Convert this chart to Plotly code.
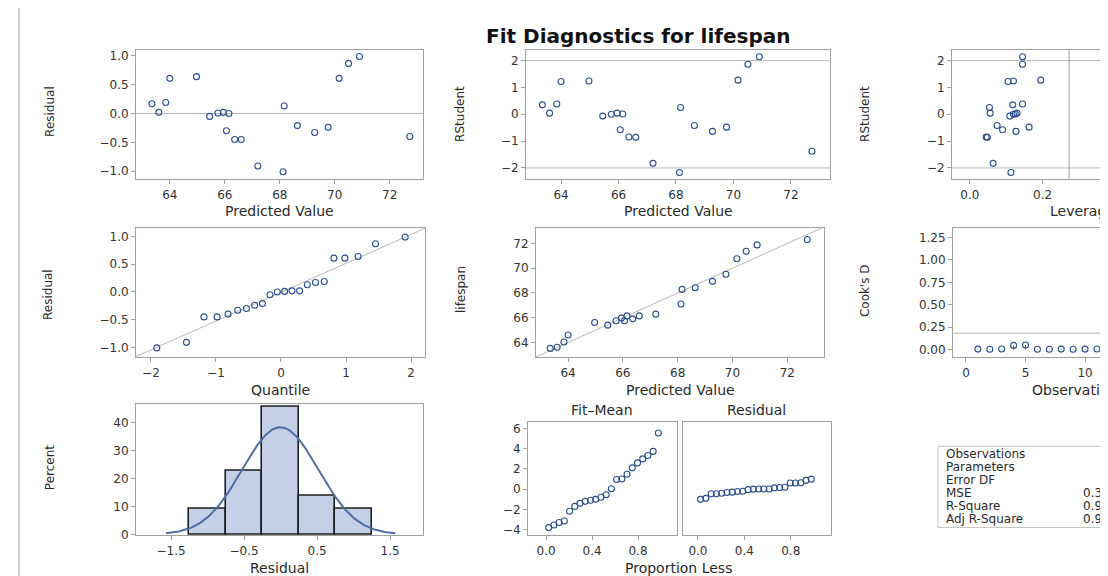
import numpy as np
import plotly.graph_objects as go
from statistics import NormalDist

W, H = 1108, 576

# ---------------- data ----------------
predicted = [63.35, 63.60, 63.85, 64.00, 64.97, 65.45, 65.75, 65.95, 66.15, 66.06, 66.36,
             66.60, 67.20, 68.12, 68.16, 68.64, 69.27, 69.76, 70.16, 70.50, 70.90, 72.73]
residual = [0.17, 0.02, 0.19, 0.61, 0.64, -0.05, 0.01, 0.02, 0.00, -0.30, -0.45,
            -0.45, -0.91, -1.01, 0.13, -0.21, -0.33, -0.24, 0.61, 0.87, 0.99, -0.40]
lifespan = [63.52, 63.62, 64.04, 64.61, 65.61, 65.40, 65.76, 65.97, 66.15, 65.76, 65.91,
            66.15, 66.29, 67.11, 68.29, 68.43, 68.94, 69.52, 70.77, 71.37, 71.89, 72.33]
rstudent = [0.35, 0.04, 0.38, 1.22, 1.24, -0.07, 0.00, 0.04, 0.01, -0.58, -0.85,
            -0.86, -1.83, -2.17, 0.25, -0.42, -0.64, -0.48, 1.27, 1.86, 2.14, -1.38]
leverage = [0.118, 0.056, 0.145, 0.105, 0.120, 0.110, 0.120, 0.130, 0.125, 0.090, 0.045,
            0.048, 0.064, 0.113, 0.054, 0.075, 0.127, 0.163, 0.195, 0.145, 0.145, 0.450]
observation = list(range(1, 23))
cooks_d = [0.004, 0.003, 0.005, 0.045, 0.050, 0.003, 0.002, 0.004, 0.003, 0.004, 0.005,
           0.048, 0.020, 0.110, 0.010, 0.030, 0.020, 0.180, 0.010, 0.120, 0.280, 0.400]

rstudent_limit = 2
leverage_limit = 0.273
cooks_limit = 4 / 22

stat_labels = ["Observations", "Parameters", "Error DF", "MSE", "R-Square", "Adj R-Square"]
stat_values = ["22", "3", "19", "0.3006", "0.9560", "0.9514"]

# ---------------- styling ----------------
FONT = "DejaVu Sans"
MARK = "#2d4f8e"
REF = "#b8b8b8"
FRAME = "#a0a0a0"
TXT = "#2a2a2a"

def X(p):
    return p / W

def Y(p):
    return 1 - p / H

panels = [
    dict(x=(128, 415), y=(42, 173), xr=[62.77, 73.21], yr=[-1.14, 1.11],
         xt=[64, 66, 68, 70, 72], xf="d", yt=[-1, -0.5, 0, 0.5, 1], yf=".1f"),
    dict(x=(518, 822), y=(42, 173), xr=[62.78, 73.36], yr=[-2.42, 2.41],
         xt=[64, 66, 68, 70, 72], xf="d", yt=[-2, -1, 0, 1, 2], yf="d"),
    dict(x=(944, 1108), y=(42, 173), xr=[-0.049, 0.402], yr=[-2.42, 2.41],
         xt=[0, 0.2, 0.4], xf=".1f", yt=[-2, -1, 0, 1, 2], yf="d", open_right=True),
    dict(x=(128, 417), y=(222, 353), xr=[-2.23, 2.215], yr=[-1.18, 1.16],
         xt=[-2, -1, 0, 1, 2], xf="d", yt=[-1, -0.5, 0, 0.5, 1], yf=".1f"),
    dict(x=(528, 816), y=(222, 353), xr=[62.83, 73.34], yr=[62.8, 73.28],
         xt=[64, 66, 68, 70, 72], xf="d", yt=[64, 66, 68, 70, 72], yf="d"),
    dict(x=(945, 1108), y=(222, 353), xr=[-1.09, 12.6], yr=[-0.088, 1.36],
         xt=[0, 5, 10, 15, 20], xf="d", yt=[0, 0.25, 0.5, 0.75, 1.0, 1.25], yf=".2f",
         open_right=True),
    dict(x=(128, 415), y=(400, 533), xr=[-1.98, 1.95], yr=[-0.35, 46.7],
         xt=[-1.5, -0.5, 0.5, 1.5], xf=".1f", yt=[0, 10, 20, 30, 40], yf="d"),
    dict(x=(520, 669), y=(418, 533), xr=[-0.157, 1.139], yr=[-4.59, 6.69],
         xt=[0, 0.4, 0.8], xf=".1f", yt=[-4, -2, 0, 2, 4, 6], yf="d"),
    dict(x=(675, 823), y=(418, 533), xr=[-0.129, 1.147], yr=[-4.59, 6.69],
         xt=[0, 0.4, 0.8], xf=".1f", yt=None, yf="d"),
]

layout = dict(
    width=W, height=H, margin=dict(l=0, r=0, t=0, b=0),
    paper_bgcolor="white", plot_bgcolor="white", showlegend=False,
    font=dict(family=FONT, color=TXT),
)

tickfont = dict(family=FONT, size=12, color="#333333")
for i, p in enumerate(panels, start=1):
    sfx = "" if i == 1 else str(i)
    layout["xaxis" + sfx] = dict(
        domain=[X(p["x"][0]), X(p["x"][1])], range=p["xr"], anchor="y" + sfx,
        tickmode="array", tickvals=p["xt"], tickformat=p["xf"],
        showline=True, linecolor=FRAME, linewidth=1, mirror=True,
        ticks="outside", ticklen=4, tickcolor=FRAME, tickfont=tickfont,
        showgrid=False, zeroline=False, fixedrange=True,
    )
    yax = dict(
        domain=[Y(p["y"][1]), Y(p["y"][0])], range=p["yr"], anchor="x" + sfx,
        showline=True, linecolor=FRAME, linewidth=1,
        mirror=not p.get("open_right", False),
        showgrid=False, zeroline=False, fixedrange=True, tickfont=tickfont,
    )
    if p["yt"] is None:
        yax.update(showticklabels=False, ticks="")
    else:
        yax.update(tickmode="array", tickvals=p["yt"], tickformat=p["yf"],
                   ticks="outside", ticklen=4, tickcolor=FRAME)
    layout["yaxis" + sfx] = yax

fig = go.Figure(layout=layout)

marker = dict(symbol="circle-open", size=6, color=MARK, line=dict(width=1.1, color=MARK))

def scatter(x, y, n):
    sfx = "" if n == 1 else str(n)
    fig.add_trace(go.Scatter(x=x, y=y, mode="markers", marker=marker,
                             xaxis="x" + sfx, yaxis="y" + sfx, hoverinfo="skip"))

def hline(yv, n):
    sfx = "" if n == 1 else str(n)
    fig.add_shape(type="line", xref=("x" + sfx) + " domain", x0=0, x1=1,
                  yref="y" + sfx, y0=yv, y1=yv, line=dict(color=REF, width=1), layer="below")

def vline(xv, n):
    sfx = "" if n == 1 else str(n)
    fig.add_shape(type="line", yref=("y" + sfx) + " domain", y0=0, y1=1,
                  xref="x" + sfx, x0=xv, x1=xv, line=dict(color=FRAME, width=1), layer="below")

n = len(residual)
res = np.array(residual)
pred = np.array(predicted)

# 1 residual vs predicted
hline(0, 1)
scatter(predicted, residual, 1)

# 2 RStudent vs predicted
hline(rstudent_limit, 2)
hline(-rstudent_limit, 2)
scatter(predicted, rstudent, 2)

# 3 RStudent vs leverage
hline(rstudent_limit, 3)
hline(-rstudent_limit, 3)
vline(leverage_limit, 3)
scatter(leverage, rstudent, 3)

# 4 Q-Q plot of residuals
nd = NormalDist()
res_sorted = np.sort(res)
quant = [nd.inv_cdf((i + 1 - 0.375) / (n + 0.25)) for i in range(n)]
mu, sd = res.mean(), res.std(ddof=1)
qx = np.array(panels[3]["xr"])
fig.add_trace(go.Scatter(x=qx, y=mu + sd * qx, mode="lines", line=dict(color=REF, width=1),
                         xaxis="x4", yaxis="y4", hoverinfo="skip"))
scatter(quant, res_sorted, 4)

# 5 observed vs predicted
dx = np.array(panels[4]["xr"])
fig.add_trace(go.Scatter(x=dx, y=dx, mode="lines", line=dict(color=REF, width=1),
                         xaxis="x5", yaxis="y5", hoverinfo="skip"))
scatter(predicted, lifespan, 5)

# 6 Cook's D
hline(cooks_limit, 6)
nx, ny = [], []
for o, d in zip(observation, cooks_d):
    nx += [o, o, None]
    ny += [0, d, None]
fig.add_trace(go.Scatter(x=nx, y=ny, mode="lines", line=dict(color=MARK, width=1),
                         xaxis="x6", yaxis="y6", hoverinfo="skip"))
scatter(observation, cooks_d, 6)

# 7 histogram with normal curve
fig.add_trace(go.Histogram(x=residual, histnorm="percent",
                           xbins=dict(start=-1.25, end=1.25, size=0.5),
                           marker=dict(color="#c3d0e7", line=dict(color="#1e1e1e", width=1.6)),
                           xaxis="x7", yaxis="y7", hoverinfo="skip"))
cx = np.linspace(-1.57, 1.57, 200)
cy = 100 * 0.5 * np.exp(-0.5 * ((cx - mu) / sd) ** 2) / (sd * np.sqrt(2 * np.pi))
fig.add_trace(go.Scatter(x=cx, y=cy, mode="lines", line=dict(color="#4d6fa3", width=2),
                         xaxis="x7", yaxis="y7", hoverinfo="skip"))

# 8/9 residual-fit spread plot
prop = [(i + 0.5) / n for i in range(n)]
fit_mean = np.sort(pred - pred.mean())
scatter(prop, fit_mean, 8)
scatter(prop, res_sorted, 9)

# ---------------- text ----------------
ann = []

def text(s, x, y, size=13, anchor="center", angle=0, bold=False):
    ann.append(dict(text=("<b>%s</b>" % s) if bold else s, x=X(x), y=Y(y),
                    xref="paper", yref="paper", showarrow=False, xanchor=anchor,
                    yanchor="middle", textangle=angle,
                    font=dict(family=FONT, size=size, color="#111" if bold else TXT)))

text("Fit Diagnostics for lifespan", 630, 28, size=20, bold=True)

xt_size = 14
text("Predicted Value", 271, 205, xt_size)
text("Predicted Value", 670, 205, xt_size)
text("Leverage", 1040, 205, xt_size, anchor="left")
text("Quantile", 272, 386, xt_size)
text("Predicted Value", 672, 386, xt_size)
text("Observation", 1022, 386, xt_size, anchor="left")
text("Residual", 271, 566, xt_size)
text("Proportion Less", 671, 566, xt_size)

yt_size = 12
text("Residual", 42, 105, yt_size, angle=-90)
text("RStudent", 452, 107, yt_size, angle=-90)
text("RStudent", 857, 107, yt_size, angle=-90)
text("Residual", 40, 290, yt_size, angle=-90)
text("lifespan", 453, 285, yt_size, angle=-90)
text("Cook's D", 857, 286, yt_size, angle=-90)
text("Percent", 42, 465, yt_size, angle=-90)

text("Fit\u2013Mean", 594, 406, 14)
text("Residual", 749, 406, 14)

rows_y = [451, 464, 477, 490, 503, 516]
for lab, val, ry in zip(stat_labels, stat_values, rows_y):
    text(lab, 936, ry, 12, anchor="left")
    if "." in val:
        text(val, 1073, ry, 12, anchor="left")
    else:
        text(val, 1150, ry, 12, anchor="right")

fig.update_layout(annotations=ann)

# frame decorations
fig.add_shape(type="rect", xref="paper", yref="paper", x0=X(930), x1=X(1300),
              y0=Y(525), y1=Y(443), line=dict(color="#c4c4c4", width=1))
fig.add_shape(type="line", xref="paper", yref="paper", x0=X(11), x1=X(11), y0=0, y1=1,
              line=dict(color="#d0d0d0", width=2))

fig.write_html("out.html")
